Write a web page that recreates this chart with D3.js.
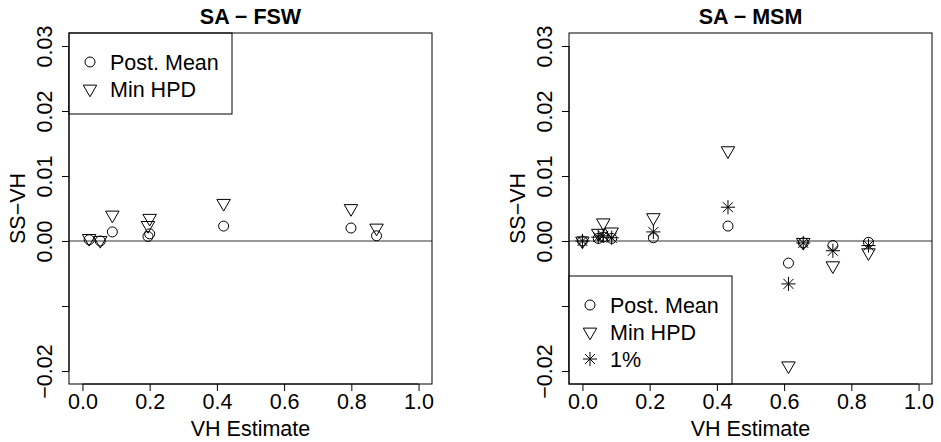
<!DOCTYPE html>
<html><head><meta charset="utf-8">
<script src="https://cdn.jsdelivr.net/npm/d3@7"></script>
<style>body{margin:0;background:#fff}svg{display:block}text{font-family:"Liberation Sans",Arial,sans-serif}</style>
</head><body><svg id="c" width="941" height="442"></svg>
<script>
// ---- data ----
const xTicks = [0, 0.2, 0.4, 0.6, 0.8, 1.0];
const xTickLabels = ["0.0", "0.2", "0.4", "0.6", "0.8", "1.0"];
const yTicks = [-0.02, -0.01, 0.00, 0.01, 0.02, 0.03];
const yTickLabels = ["\u22120.02", "", "0.00", "0.01", "0.02", "0.03"];

const fswX    = [0.020, 0.053, 0.089, 0.195, 0.200, 0.420, 0.799, 0.875];
const fswMean = [0.0002, 0.0000, 0.0014, 0.0007, 0.0011, 0.0023, 0.0020, 0.0008];
const fswHPD  = [0.0004, 0.0001, 0.0040, 0.0024, 0.0035, 0.0058, 0.0050, 0.0020];

const msmX    = [0.000, 0.047, 0.062, 0.087, 0.211, 0.433, 0.613, 0.657, 0.745, 0.851];
const msmMean = [0.0000, 0.0004, 0.0006, 0.0004, 0.0005, 0.0023, -0.0034, -0.0003, -0.0007, -0.0002];
const msmHPD  = [0.0000, 0.0012, 0.0028, 0.0014, 0.0036, 0.0139, -0.0192, -0.0002, -0.0038, -0.0018];
const msm1    = [0.0000, 0.0006, 0.0008, 0.0005, 0.0014, 0.0052, -0.0066, -0.0003, -0.0015, -0.0007];

const panels = [
  {title: "SA \u2212 FSW", x: fswX, series: [{name:"Post. Mean", sym:"circle", v: fswMean}, {name:"Min HPD", sym:"tri", v: fswHPD}], legend:"top"},
  {title: "SA \u2212 MSM", x: msmX, series: [{name:"Post. Mean", sym:"circle", v: msmMean}, {name:"Min HPD", sym:"tri", v: msmHPD}, {name:"1%", sym:"star", v: msm1}], legend:"bottom"}
];

// ---- drawing ----
const svg = d3.select("#c");
const FS = 21.5;
const b = 5; // symbol base radius

function drawSym(g, sym, cx, cy) {
  if (sym === "circle") {
    g.append("circle").attr("cx", cx).attr("cy", cy).attr("r", b)
      .attr("fill", "none").attr("stroke", "#000").attr("stroke-width", 1);
  } else if (sym === "tri") {
    const r = 1.5551 * b, yc = 0.7776 * b, xc = 1.3468 * b;
    g.append("path").attr("d", `M${cx},${cy + r}L${cx + xc},${cy - yc}L${cx - xc},${cy - yc}Z`)
      .attr("fill", "none").attr("stroke", "#000").attr("stroke-width", 1);
  } else {
    const p = b * Math.SQRT2;
    g.append("path").attr("d",
      `M${cx - p},${cy}H${cx + p}M${cx},${cy - p}V${cy + p}M${cx - b},${cy - b}L${cx + b},${cy + b}M${cx - b},${cy + b}L${cx + b},${cy - b}`)
      .attr("fill", "none").attr("stroke", "#000").attr("stroke-width", 1);
  }
}

panels.forEach((p, i) => {
  const ox = i * 500;
  const L = 69 + ox, R = 432 + ox, T = 33, B = 384;
  const xs = d3.scaleLinear().domain([-0.04, 1.04]).range([L, R]);
  const ys = d3.scaleLinear().domain([-0.022, 0.032]).range([B, T]);
  const g = svg.append("g");

  // title
  g.append("text").attr("x", (L + R) / 2).attr("y", 24).attr("text-anchor", "middle")
    .attr("font-weight", "bold").attr("font-size", FS).text(p.title);

  // x axis
  const xa = g.append("g").attr("transform", `translate(0,${B})`)
    .call(d3.axisBottom(xs).tickValues(xTicks).tickSize(7).tickSizeOuter(0)
      .tickFormat((d, k) => xTickLabels[k]));
  xa.select(".domain").attr("d", `M${xs(0)},0H${xs(1)}`).attr("stroke", "#000");
  xa.selectAll(".tick line").attr("stroke", "#000");
  xa.selectAll(".tick text").attr("font-size", FS).attr("font-family", "Liberation Sans, Arial, sans-serif")
    .attr("fill", "#000").attr("dy", null).attr("y", 25);

  // y axis
  const ya = g.append("g").attr("transform", `translate(${L},0)`)
    .call(d3.axisLeft(ys).tickValues(yTicks).tickSize(7).tickSizeOuter(0)
      .tickFormat((d, k) => yTickLabels[k]));
  ya.select(".domain").attr("d", `M0,${ys(-0.02)}V${ys(0.03)}`).attr("stroke", "#000");
  ya.selectAll(".tick line").attr("stroke", "#000");
  ya.selectAll(".tick text").attr("font-size", FS).attr("font-family", "Liberation Sans, Arial, sans-serif")
    .attr("fill", "#000").attr("x", null).attr("dy", null)
    .attr("text-anchor", "middle").attr("transform", "translate(-17,0) rotate(-90)");

  // axis titles
  g.append("text").attr("x", (L + R) / 2).attr("y", 436).attr("text-anchor", "middle")
    .attr("font-size", FS).text("VH Estimate");
  g.append("text").attr("transform", `translate(${L - 44},${(T + B) / 2}) rotate(-90)`)
    .attr("text-anchor", "middle").attr("font-size", FS).text("SS\u2212VH");

  // zero line
  g.append("line").attr("x1", L).attr("x2", R).attr("y1", ys(0)).attr("y2", ys(0))
    .attr("stroke", "#333").attr("stroke-width", 1);

  // points
  const pg = g.append("g");
  p.series.forEach(s => {
    s.v.forEach((v, k) => drawSym(pg, s.sym, xs(p.x[k]), ys(v)));
  });

  // legend
  const lw = 163, rowH = 27;
  const lh = p.series.length * rowH + 27;
  const ly = p.legend === "top" ? T : B - lh;
  const lg = g.append("g");
  lg.append("rect").attr("x", L).attr("y", ly).attr("width", lw).attr("height", lh)
    .attr("fill", "#fff").attr("stroke", "#000").attr("stroke-width", 1);
  p.series.forEach((s, k) => {
    const cy = ly + 29 + k * rowH;
    drawSym(lg, s.sym, L + 21, cy);
    lg.append("text").attr("x", L + 41).attr("y", cy + 7.5).attr("font-size", FS).text(s.name);
  });

  // box
  g.append("rect").attr("x", L).attr("y", T).attr("width", R - L).attr("height", B - T)
    .attr("fill", "none").attr("stroke", "#000").attr("stroke-width", 1);
});
</script></body></html>
